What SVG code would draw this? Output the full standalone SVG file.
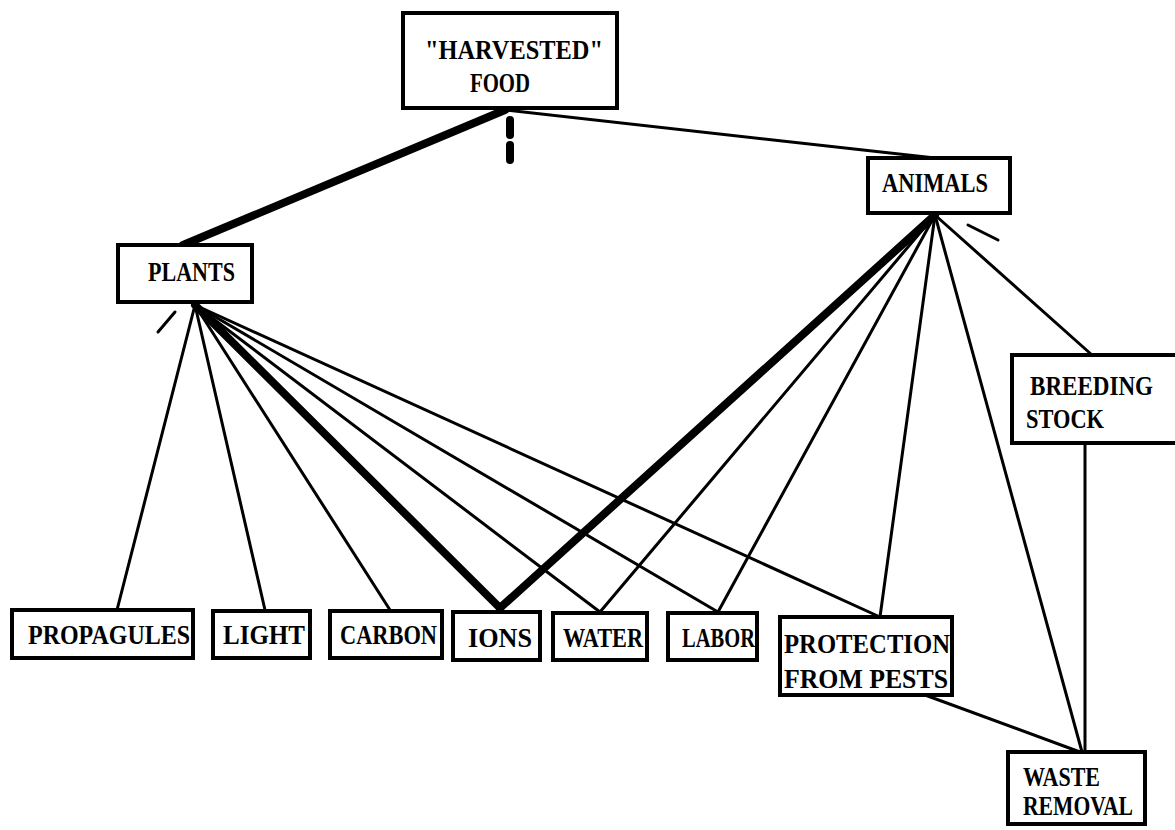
<svg xmlns="http://www.w3.org/2000/svg" width="1175" height="830" viewBox="0 0 1175 830">
<style>
.box{fill:#fff;stroke:#000;stroke-width:4}
.t{font-family:"Liberation Serif","DejaVu Serif",serif;font-size:27px;font-weight:bold;fill:#000}
.ln{stroke:#000;stroke-width:3;fill:none;stroke-linecap:round}
.thick{stroke:#000;stroke-width:8;fill:none;stroke-linecap:round}
</style>
<rect width="1175" height="830" fill="#fff"/>
<g id="connectors">
<line class="thick" x1="505" y1="110" x2="183" y2="245"/>
<line class="ln" x1="505" y1="110" x2="935" y2="158"/>
<line class="thick" x1="510" y1="120" x2="510" y2="135" stroke-width="4"/>
<line class="thick" x1="510" y1="145" x2="510" y2="160" stroke-width="4"/>
<line class="ln" x1="195" y1="305" x2="117" y2="610"/>
<line class="ln" x1="195" y1="305" x2="265" y2="610"/>
<line class="ln" x1="195" y1="305" x2="390" y2="610"/>
<line class="thick" x1="195" y1="305" x2="500" y2="608"/>
<line class="ln" x1="195" y1="305" x2="600" y2="612"/>
<line class="ln" x1="195" y1="305" x2="718" y2="612"/>
<line class="ln" x1="195" y1="305" x2="880" y2="617"/>
<line class="ln" x1="175" y1="312" x2="158" y2="332"/>
<line class="thick" x1="935" y1="215" x2="500" y2="608"/>
<line class="ln" x1="935" y1="215" x2="600" y2="612"/>
<line class="ln" x1="935" y1="215" x2="718" y2="612"/>
<line class="ln" x1="935" y1="215" x2="880" y2="617"/>
<line class="ln" x1="935" y1="215" x2="1082" y2="752"/>
<line class="ln" x1="935" y1="215" x2="1092" y2="355"/>
<line class="ln" x1="968" y1="225" x2="998" y2="240"/>
<line class="ln" x1="1085" y1="443" x2="1085" y2="752"/>
<line class="ln" x1="925" y1="695" x2="1080" y2="752"/>
</g>
<g id="harvested">
<rect class="box" x="403" y="13" width="214" height="95"/>
<text class="t" x="425" y="59" textLength="178" lengthAdjust="spacingAndGlyphs">"HARVESTED"</text>
<text class="t" x="470" y="92" textLength="60" lengthAdjust="spacingAndGlyphs">FOOD</text>
</g>
<g id="plants">
<rect class="box" x="118" y="245" width="134" height="57"/>
<text class="t" x="148" y="281" textLength="87" lengthAdjust="spacingAndGlyphs">PLANTS</text>
</g>
<g id="animals">
<rect class="box" x="868" y="158" width="142" height="55"/>
<text class="t" x="882" y="192" textLength="106" lengthAdjust="spacingAndGlyphs">ANIMALS</text>
</g>
<g id="propagules">
<rect class="box" x="12" y="610" width="181" height="48"/>
<text class="t" x="28" y="644" textLength="162" lengthAdjust="spacingAndGlyphs">PROPAGULES</text>
</g>
<g id="light">
<rect class="box" x="213" y="611" width="97" height="47"/>
<text class="t" x="223" y="644" textLength="82" lengthAdjust="spacingAndGlyphs">LIGHT</text>
</g>
<g id="carbon">
<rect class="box" x="330" y="611" width="112" height="47"/>
<text class="t" x="340" y="644" textLength="97" lengthAdjust="spacingAndGlyphs">CARBON</text>
</g>
<g id="ions">
<rect class="box" x="453" y="612" width="87" height="48"/>
<text class="t" x="468" y="647" textLength="64" lengthAdjust="spacingAndGlyphs">IONS</text>
</g>
<g id="water">
<rect class="box" x="553" y="613" width="94" height="47"/>
<text class="t" x="563" y="647" textLength="80" lengthAdjust="spacingAndGlyphs">WATER</text>
</g>
<g id="labor">
<rect class="box" x="668" y="613" width="89" height="47"/>
<text class="t" x="682" y="647" textLength="73" lengthAdjust="spacingAndGlyphs">LABOR</text>
</g>
<g id="protection">
<rect class="box" x="780" y="617" width="172" height="78"/>
<text class="t" x="784" y="653" textLength="166" lengthAdjust="spacingAndGlyphs">PROTECTION</text>
<text class="t" x="784" y="688" textLength="164" lengthAdjust="spacingAndGlyphs">FROM PESTS</text>
</g>
<g id="breeding">
<rect class="box" x="1012" y="355" width="170" height="88"/>
<text class="t" x="1030" y="395" textLength="123" lengthAdjust="spacingAndGlyphs">BREEDING</text>
<text class="t" x="1026" y="428" textLength="78" lengthAdjust="spacingAndGlyphs">STOCK</text>
</g>
<g id="waste">
<rect class="box" x="1008" y="752" width="137" height="72"/>
<text class="t" x="1023" y="786" textLength="77" lengthAdjust="spacingAndGlyphs">WASTE</text>
<text class="t" x="1023" y="815" textLength="110" lengthAdjust="spacingAndGlyphs">REMOVAL</text>
</g>
</svg>
